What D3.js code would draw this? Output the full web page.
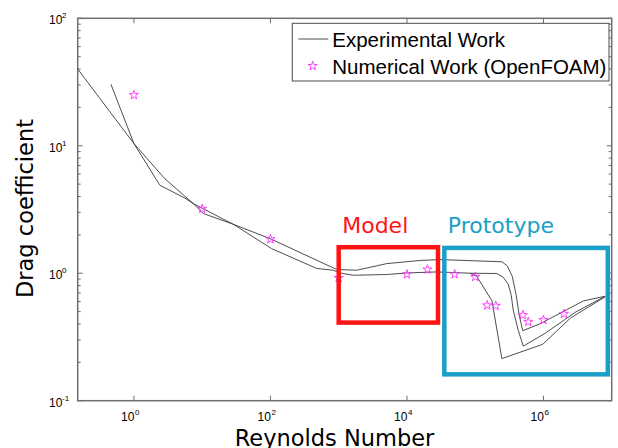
<!DOCTYPE html>
<html>
<head>
<meta charset="utf-8">
<script src="https://cdn.jsdelivr.net/npm/d3@7"></script>
<style>
  body { margin: 0; background: #fff; }
  svg { display: block; }
</style>
</head>
<body>
<svg id="chart" width="618" height="448"></svg>
<script>
// Experimental drag curves for a circular cylinder (three data sets)
const expRe1 = [0.15, 1.0, 2.85, 7.4, 28.6, 98.6, 533, 938, 1842, 5070, 15600, 30700, 246000, 294000, 349000, 399000, 442000, 497000, 898000, 3.87e6, 8.05e6];
const expCd1 = [40, 10.4, 5.5, 3.52, 2.42, 1.87, 1.23, 1.07, 1.056, 1.19, 1.26, 1.28, 1.23, 1.145, 0.947, 0.672, 0.469, 0.354, 0.402, 0.607, 0.66];

const expRe2 = [0.46, 1.0, 2.4, 5.6, 7.4, 10.4, 28.6, 104, 477, 828, 1048, 1643, 5070, 9970, 27400, 84500, 208000, 258000, 305000, 337000, 361000, 427000, 506000, 1.06e6, 2.93e6, 8.05e6];
const expCd2 = [30.4, 10.4, 4.9, 3.88, 3.52, 2.94, 2.42, 1.56, 1.09, 1.056, 1.005, 0.964, 0.977, 1.005, 1.024, 1.0, 0.995, 0.93, 0.82, 0.672, 0.513, 0.357, 0.268, 0.338, 0.494, 0.66];

const expRe3 = [84500, 106000, 176000, 246000, 977000, 2.47e6, 8.05e6];
const expCd3 = [1.0, 0.942, 0.607, 0.214, 0.277, 0.444, 0.654];

// OpenFOAM results
const numRe = [1, 10, 100, 1000, 1e4, 2e4, 5e4, 1e5, 1.5e5, 2e5, 5e5, 6e5, 1e6, 2e6];
const numCd = [25, 3.2, 1.85, 0.92, 0.98, 1.07, 0.98, 0.935, 0.56, 0.555, 0.47, 0.415, 0.43, 0.48];

// Axis ticks
const xMajor = [1, 1e2, 1e4, 1e6];
const xExponents = ["0", "2", "4", "6"];
const yMajor = [0.1, 1, 10, 100];
const yExponents = ["-1", "0", "1", "2"];

// Legend and regime boxes
const legendLabels = ["Experimental Work", "Numerical Work (OpenFOAM)"];
const regimeNames = ["Model", "Prototype"];
const regimeRe = [[1e3, 2.85e4], [3.53e4, 8.77e6]];
const regimeCd = [[0.41, 1.6], [0.161, 1.58]];
const regimeColors = ["#ff1414", "#1aa0c8"];

const plot = { left: 77.7, right: 611.7, top: 18.3, bottom: 400.7 };

const svg = d3.select("#chart");
const x = d3.scaleLog().domain([0.15, 1e7]).range([plot.left, plot.right]);
const y = d3.scaleLog().domain([0.1, 100]).range([plot.bottom, plot.top]);

const axisColor = "#6e6e6e";

// minor y ticks 2..9 per decade
const yMinor = [];
[-1, 0, 1].forEach(k => { for (let m = 2; m <= 9; m++) yMinor.push(m * Math.pow(10, k)); });

const ticks = svg.append("g").attr("stroke", axisColor).attr("stroke-width", 1);
// x ticks bottom and top (inward)
xMajor.forEach(v => {
  ticks.append("line").attr("x1", x(v)).attr("x2", x(v)).attr("y1", plot.bottom).attr("y2", plot.bottom - 5);
  ticks.append("line").attr("x1", x(v)).attr("x2", x(v)).attr("y1", plot.top).attr("y2", plot.top + 5);
});
// y ticks left and right
yMajor.forEach(v => {
  ticks.append("line").attr("x1", plot.left).attr("x2", plot.left + 5).attr("y1", y(v)).attr("y2", y(v));
  ticks.append("line").attr("x1", plot.right).attr("x2", plot.right - 5).attr("y1", y(v)).attr("y2", y(v));
});
yMinor.forEach(v => {
  ticks.append("line").attr("x1", plot.left).attr("x2", plot.left + 3).attr("y1", y(v)).attr("y2", y(v));
  ticks.append("line").attr("x1", plot.right).attr("x2", plot.right - 3).attr("y1", y(v)).attr("y2", y(v));
});

// frame
svg.append("rect")
  .attr("x", plot.left).attr("y", plot.top)
  .attr("width", plot.right - plot.left).attr("height", plot.bottom - plot.top)
  .attr("fill", "none").attr("stroke", axisColor).attr("stroke-width", 1.5);

// tick labels
const tickFont = "'Liberation Sans', Arial, sans-serif";
const xl = svg.append("g").attr("font-family", tickFont).attr("fill", "#000");
xMajor.forEach((v, i) => {
  xl.append("text").attr("x", x(v) + 0.5).attr("y", 420.5).attr("text-anchor", "end")
    .attr("font-size", 12).text("10");
  xl.append("text").attr("x", x(v) + 1).attr("y", 414.5).attr("font-size", 8).text(xExponents[i]);
});
yMajor.forEach((v, i) => {
  xl.append("text").attr("x", 49).attr("y", y(v) + 5.8).attr("font-size", 12).text("10");
  xl.append("text").attr("x", 62).attr("y", y(v) - 0.2).attr("font-size", 8).text(yExponents[i]);
});

// axis titles
const titleFont = "'DejaVu Sans', sans-serif";
svg.append("text").attr("x", 334.5).attr("y", 445.5).attr("text-anchor", "middle")
  .attr("font-family", titleFont).attr("font-size", 22.5).attr("fill", "#000").text("Reynolds Number");
svg.append("text").attr("transform", "translate(33,208.5) rotate(-90)").attr("text-anchor", "middle")
  .attr("font-family", titleFont).attr("font-size", 22.5).attr("fill", "#000").text("Drag coefficient");

// experimental curves
const line = d3.line().x(d => x(d[0])).y(d => y(d[1]));
const curves = [
  d3.zip(expRe1, expCd1),
  d3.zip(expRe2, expCd2),
  d3.zip(expRe3, expCd3)
];
svg.append("g").selectAll("path").data(curves).join("path")
  .attr("d", line).attr("fill", "none").attr("stroke", "#3a3a3a").attr("stroke-width", 0.9);

// numerical points
const star = d3.symbol().type(d3.symbolStar).size(26);
svg.append("g").selectAll("path").data(d3.zip(numRe, numCd)).join("path")
  .attr("transform", d => `translate(${x(d[0])},${y(d[1])})`)
  .attr("d", star).attr("fill", "none").attr("stroke", "#ff2bff").attr("stroke-width", 0.9);

// regime boxes
regimeNames.forEach((name, i) => {
  const x0 = x(regimeRe[i][0]), x1 = x(regimeRe[i][1]);
  const y0 = y(regimeCd[i][1]), y1 = y(regimeCd[i][0]);
  svg.append("rect").attr("x", x0).attr("y", y0).attr("width", x1 - x0).attr("height", y1 - y0)
    .attr("fill", "none").attr("stroke", regimeColors[i]).attr("stroke-width", 4.5);
  svg.append("text").attr("x", x0 + 3.5).attr("y", 233.3)
    .attr("font-family", titleFont).attr("font-size", 22).attr("fill", regimeColors[i]).text(name);
});

// legend
const lg = svg.append("g");
lg.append("rect").attr("x", 292.3).attr("y", 23.3).attr("width", 316.7).attr("height", 57.7)
  .attr("fill", "#fff").attr("stroke", "#4a4a4a").attr("stroke-width", 1);
lg.append("line").attr("x1", 298.3).attr("x2", 328.3).attr("y1", 39).attr("y2", 39)
  .attr("stroke", "#3a3a3a").attr("stroke-width", 0.9);
lg.append("path").attr("transform", "translate(312.7,66)").attr("d", star)
  .attr("fill", "none").attr("stroke", "#ff2bff").attr("stroke-width", 0.9);
legendLabels.forEach((t, i) => {
  lg.append("text").attr("x", 332.3).attr("y", 46.6 + i * 27)
    .attr("font-family", tickFont).attr("font-size", 20.5).attr("fill", "#000").text(t);
});
</script>
</body>
</html>
